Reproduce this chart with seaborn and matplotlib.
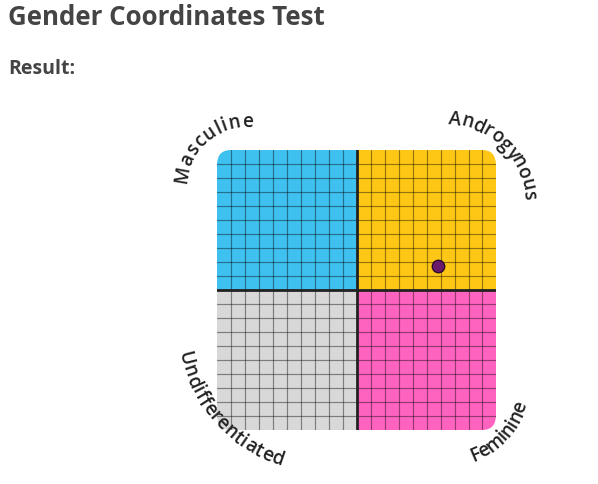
import numpy as np
import pandas as pd
import matplotlib
matplotlib.use("Agg")
import matplotlib.pyplot as plt
import seaborn as sns
from matplotlib.colors import ListedColormap
from matplotlib.patches import FancyBboxPatch
from matplotlib.transforms import IdentityTransform
from matplotlib.font_manager import FontProperties

# ---------------- data ----------------
title = "Gender Coordinates Test"
subtitle = "Result:"
quadrant_names = ["Masculine", "Androgynous", "Undifferentiated", "Feminine"]
quadrant_colors = ["#3FC1F0", "#FFC715", "#D8D8D8", "#FF63C0"]
grid_cells = 20
axis_min, axis_max = -10, 10
result_x = [5.8]
result_y = [1.7]

# ---------------- style ----------------
sns.set_theme(style="white")
plt.rcParams["font.family"] = ["Open Sans", "DejaVu Sans"]

W, H = 598, 484
fig = plt.figure(figsize=(W / 100, H / 100), dpi=100)
fig.patch.set_facecolor("white")

gx0, gy0, gsize = 216.5, 150.0, 280.0
rect = [gx0 / W, (H - gy0 - gsize) / H, gsize / W, gsize / H]
ax = fig.add_axes(rect)

n = grid_cells
h = n // 2
q = np.zeros((n, n), dtype=int)
q[:h, :h] = 0
q[:h, h:] = 1
q[h:, :h] = 2
q[h:, h:] = 3
df = pd.DataFrame(q)
sns.heatmap(df, ax=ax, cmap=ListedColormap(quadrant_colors), vmin=-0.5, vmax=3.5,
            cbar=False, xticklabels=False, yticklabels=False, linewidths=0)
ax.set_axis_off()

clip = FancyBboxPatch((0, 0), n, n, boxstyle="round,pad=0,rounding_size=1.07",
                      transform=ax.transData, facecolor="none", edgecolor="none")
ax.add_patch(clip)
ax.collections[0].set_clip_path(clip)

for i in range(1, n):
    if i == h:
        continue
    l1 = ax.axvline(i, color=(0, 0, 0, 0.42), lw=0.85)
    l2 = ax.axhline(i, color=(0, 0, 0, 0.42), lw=0.85)
    l1.set_clip_path(clip)
    l2.set_clip_path(clip)
c1 = ax.axvline(h, color="#222222", lw=2.0)
c2 = ax.axhline(h, color="#222222", lw=2.0)
c1.set_clip_path(clip)
c2.set_clip_path(clip)

ax2 = fig.add_axes(rect, facecolor="none")
sns.scatterplot(x=result_x, y=result_y, ax=ax2, s=80, color="#6B1A6B",
                edgecolor="#2B0B2B", linewidth=1.0, zorder=5)
ax2.set_xlim(axis_min, axis_max)
ax2.set_ylim(axis_min, axis_max)
ax2.set_axis_off()

# ---------------- text ----------------
fig.text(8 / W, 1 - 25 / H, title, fontsize=18.6, fontweight="bold", color="#444444",
         ha="left", va="baseline")
fig.text(8 / W, 1 - 74 / H, subtitle, fontsize=14, fontweight="bold", color="#444444",
         ha="left", va="baseline")

fp = FontProperties(family=["Open Sans", "DejaVu Sans"], weight="semibold", size=13.5)
renderer = fig.canvas.get_renderer()


def curved(text, cx, cy, R, a0, a1, top):
    widths = np.array([renderer.get_text_width_height_descent(c, fp, ismath=False)[0]
                       for c in text])
    cum = np.concatenate([[0], np.cumsum(widths[:-1])])
    centers = cum + widths / 2
    base = centers - centers[0]
    arc = R * np.deg2rad(abs(a1 - a0))
    k = (arc - base[-1]) / (len(text) - 1)
    pos = base + k * np.arange(len(text))
    t = pos / arc
    cyd = H - cy
    for ch, tt in zip(text, t):
        th = np.deg2rad(a0 + tt * (a1 - a0))
        x = cx + R * np.cos(th)
        y = cyd + R * np.sin(th)
        rot = np.rad2deg(th) - 90 if top else np.rad2deg(th) + 90
        fig.text(x, y, ch, transform=IdentityTransform(), rotation=rot,
                 rotation_mode="anchor", ha="center", va="baseline",
                 fontproperties=fp, color="#222222")


curved(quadrant_names[0], 246, 186, 59, 170, 89, True)
curved(quadrant_names[1], 444, 204, 80, 82.5, 5.9, True)
curved(quadrant_names[2], 324, 324, 148, 194, 251, False)
curved(quadrant_names[3], 443, 380, 87, -66.7, -19.4, False)

fig.savefig("out.png", dpi=100, facecolor="white")
